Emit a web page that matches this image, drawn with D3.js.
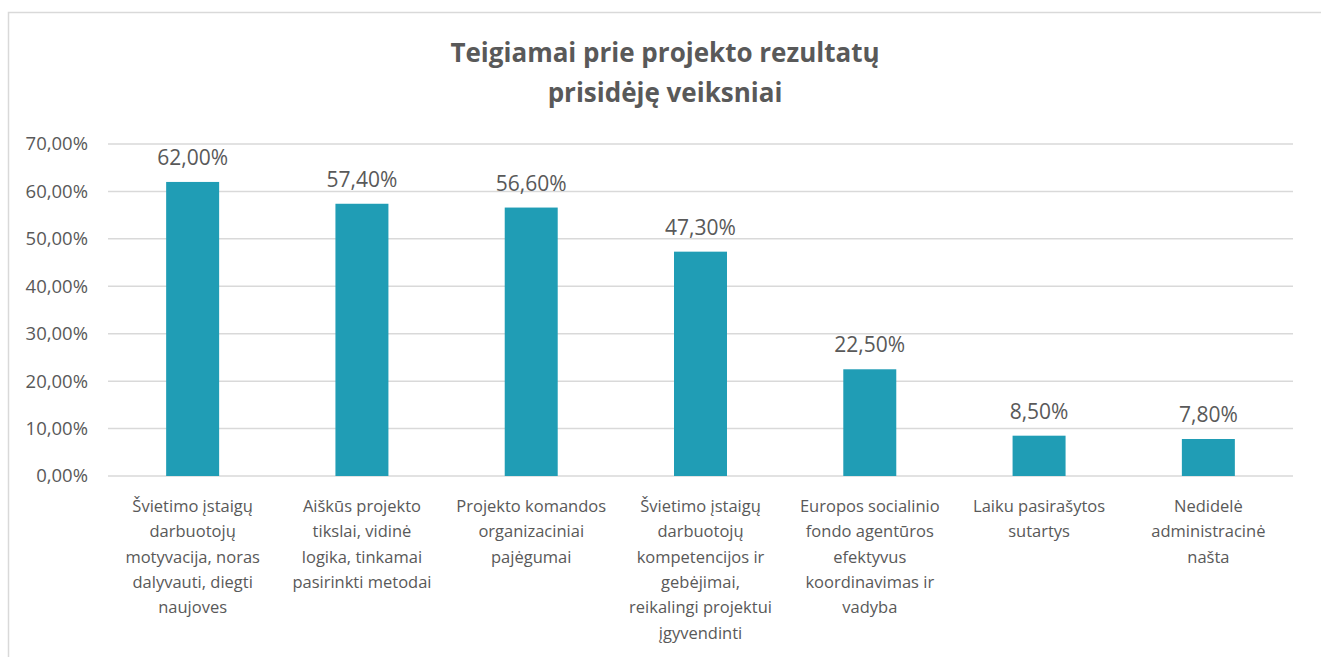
<!DOCTYPE html>
<html lang="lt">
    <head>
        <meta charset="utf-8"/>
        <script src="https://d3js.org/d3.v7.min.js"></script>
        <style>
            body { margin: 0; background: #fff; }
            text { font-family: "Open Sans", sans-serif; fill: #595959; }
        </style>
    </head>
    <body>
        <div id="chart"></div>
    </body>
    <script>
        // values
        var titleLines = ["Teigiamai prie projekto rezultatų", "prisidėję veiksniai"];

        var categories = [
            "Švietimo įstaigų darbuotojų motyvacija, noras dalyvauti, diegti naujoves",
            "Aiškūs projekto tikslai, vidinė logika, tinkamai pasirinkti metodai",
            "Projekto komandos organizaciniai pajėgumai",
            "Švietimo įstaigų darbuotojų kompetencijos ir gebėjimai, reikalingi projektui įgyvendinti",
            "Europos socialinio fondo agentūros efektyvus koordinavimas ir vadyba",
            "Laiku pasirašytos sutartys",
            "Nedidelė administracinė našta"
        ];

        // how each category label wraps in the picture
        var categoryLines = [
            ["Švietimo įstaigų", "darbuotojų", "motyvacija, noras", "dalyvauti, diegti", "naujoves"],
            ["Aiškūs projekto", "tikslai, vidinė", "logika, tinkamai", "pasirinkti metodai"],
            ["Projekto komandos", "organizaciniai", "pajėgumai"],
            ["Švietimo įstaigų", "darbuotojų", "kompetencijos ir", "gebėjimai,", "reikalingi projektui", "įgyvendinti"],
            ["Europos socialinio", "fondo agentūros", "efektyvus", "koordinavimas ir", "vadyba"],
            ["Laiku pasirašytos", "sutartys"],
            ["Nedidelė", "administracinė", "našta"]
        ];

        var values = [62.0, 57.4, 56.6, 47.3, 22.5, 8.5, 7.8];

        var yTicks = [0, 10, 20, 30, 40, 50, 60, 70];

        var W = 1321, H = 657;
        var margin = {top: 144, right: 28, bottom: 181, left: 108};
        var width = W - margin.left - margin.right;
        var height = H - margin.top - margin.bottom;

        var fmt = function (v) { return v.toFixed(2).replace(".", ",") + "%"; };

        var svgRoot = d3.select("#chart")
            .append("svg")
                .attr("width", W)
                .attr("height", H);

        // chart border
        svgRoot.append("rect")
            .attr("x", 8.5)
            .attr("y", 12.5)
            .attr("width", W)
            .attr("height", H)
            .attr("fill", "none")
            .attr("stroke", "#d9d9d9")
            .attr("stroke-width", 1.5);

        // title
        svgRoot.append("g")
            .selectAll("text")
            .data(titleLines)
            .enter()
            .append("text")
                .attr("x", 665)
                .attr("y", function (d, i) { return 62 + i * 40; })
                .attr("text-anchor", "middle")
                .style("font-size", "26px")
                .style("font-weight", "bold")
                .text(function (d) { return d; });

        var svg = svgRoot.append("g")
            .attr("transform", "translate(" + margin.left + "," + margin.top + ")");

        var x = d3.scaleBand()
            .domain(categories)
            .range([0, width])
            .padding(0);

        var y = d3.scaleLinear()
            .domain([0, 70])
            .range([height, 0]);

        // gridlines
        svg.append("g")
            .selectAll("line")
            .data(yTicks)
            .enter()
            .append("line")
                .attr("x1", 0)
                .attr("x2", width)
                .attr("y1", function (d) { return y(d); })
                .attr("y2", function (d) { return y(d); })
                .attr("stroke", "#d9d9d9")
                .attr("stroke-width", 1.5);

        // y axis labels
        var yAxis = svg.append("g")
            .call(d3.axisLeft(y).tickValues(yTicks).tickFormat(fmt).tickSize(0).tickPadding(20));
        yAxis.select(".domain").remove();
        yAxis.selectAll("text")
            .style("font-size", "18.5px")
            .attr("fill", "#595959");

        var barW = x.bandwidth() * 0.313;

        // bars
        svg.append("g")
            .selectAll("rect")
            .data(values)
            .enter()
            .append("rect")
                .attr("x", function (d, i) { return x(categories[i]) + (x.bandwidth() - barW) / 2; })
                .attr("y", function (d) { return y(d); })
                .attr("width", barW)
                .attr("height", function (d) { return height - y(d); })
                .attr("fill", "#209db5");

        // data labels
        svg.append("g")
            .selectAll("text")
            .data(values)
            .enter()
            .append("text")
                .attr("x", function (d, i) { return x(categories[i]) + x.bandwidth() / 2; })
                .attr("y", function (d) { return y(d) - 17; })
                .attr("text-anchor", "middle")
                .style("font-size", "21px")
                .text(function (d) { return fmt(d); });

        // category labels
        var cat = svg.append("g")
            .selectAll("text")
            .data(categoryLines)
            .enter()
            .append("text")
                .attr("text-anchor", "middle")
                .attr("transform", function (d, i) {
                    return "translate(" + (x(categories[i]) + x.bandwidth() / 2) + "," + (height + 36) + ")";
                })
                .style("font-size", "16.5px");

        cat.selectAll("tspan")
            .data(function (d) { return d; })
            .enter()
            .append("tspan")
                .attr("x", 0)
                .attr("y", function (d, i) { return i * 25.3; })
                .text(function (d) { return d; });
    </script>
</html>
